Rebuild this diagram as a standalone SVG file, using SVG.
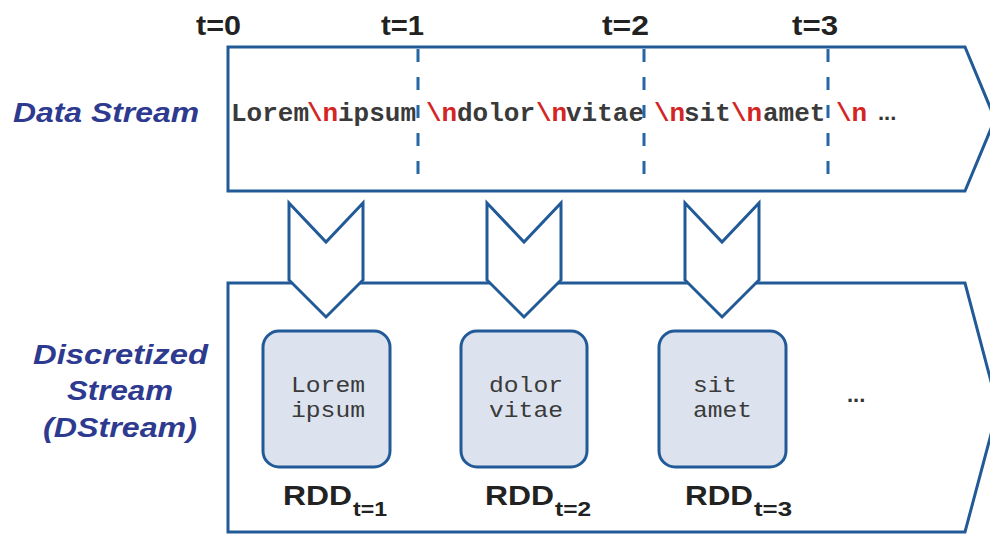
<svg xmlns="http://www.w3.org/2000/svg" width="990" height="534" viewBox="0 0 990 534">
<style>
.frame{fill:#fff;stroke:#215A97;stroke-width:3;stroke-linejoin:miter}
.dash{stroke:#2766A6;stroke-width:3;stroke-dasharray:13 15}
.chev{fill:#fff;stroke:#215A97;stroke-width:3;stroke-linejoin:miter}
.rdd{fill:#DCE3EE;stroke:#215A97;stroke-width:3}
.tlab{font-family:"Liberation Sans",Arial,sans-serif;font-weight:bold;font-size:27px;fill:#222}
.side{font-family:"Liberation Sans",Arial,sans-serif;font-weight:bold;font-style:italic;font-size:28px;fill:#2E3A8F}
.mono{font-family:"Liberation Mono","Courier New",monospace;font-weight:bold;font-size:26px;fill:#3A3A3A}
.red{fill:#D42424}
.boxt{font-family:"Liberation Mono","Courier New",monospace;font-size:22px;fill:#3A3A3A}
.rddl{font-family:"Liberation Sans",Arial,sans-serif;font-weight:bold;font-size:28px;fill:#222}
.sub{font-family:"Liberation Sans",Arial,sans-serif;font-weight:bold;font-size:21px;fill:#222}
.dots{font-family:"Liberation Sans",Arial,sans-serif;font-weight:bold;font-size:22px;fill:#333}
</style>
<rect width="990" height="534" fill="#fff"/>

<g id="time-labels">
<text class="tlab" x="196" y="35" textLength="45" lengthAdjust="spacingAndGlyphs">t=0</text>
<text class="tlab" x="381" y="35" textLength="43" lengthAdjust="spacingAndGlyphs">t=1</text>
<text class="tlab" x="602" y="35" textLength="47" lengthAdjust="spacingAndGlyphs">t=2</text>
<text class="tlab" x="792" y="35" textLength="46" lengthAdjust="spacingAndGlyphs">t=3</text>
</g>

<g id="data-stream">
<polygon class="frame" points="228,47 965,47 995,119 965,191 228,191"/>
<line class="dash" x1="418" y1="49" x2="418" y2="189"/>
<line class="dash" x1="644" y1="49" x2="644" y2="189"/>
<line class="dash" x1="828" y1="49" x2="828" y2="189"/>
<text class="mono" y="121"><tspan x="231">Lorem</tspan><tspan class="red" x="307">\n</tspan><tspan x="338">ipsum</tspan><tspan class="red" x="426">\n</tspan><tspan x="457">dolor</tspan><tspan class="red" x="536">\n</tspan><tspan x="566">vitae</tspan><tspan class="red" x="654">\n</tspan><tspan x="684">sit</tspan><tspan class="red" x="731">\n</tspan><tspan x="763">amet</tspan><tspan class="red" x="836">\n</tspan></text>
<text class="dots" x="878" y="120">...</text>
</g>

<g id="label-data-stream">
<text class="side" x="13" y="122" textLength="186" lengthAdjust="spacingAndGlyphs">Data Stream</text>
</g>

<g id="label-dstream">
<text class="side" x="33" y="364" textLength="175" lengthAdjust="spacingAndGlyphs">Discretized</text>
<text class="side" x="67" y="400" textLength="106" lengthAdjust="spacingAndGlyphs">Stream</text>
<text class="side" x="43" y="437" textLength="154" lengthAdjust="spacingAndGlyphs">(DStream)</text>
</g>

<g id="dstream">
<polygon class="frame" points="228,283 965,283 998,408 965,532 228,532"/>
<text class="dots" x="847" y="402">...</text>
</g>

<g id="connectors">
<polygon class="chev" points="289,203 326,242 363,203 363,280 326,317 289,280"/>
<polygon class="chev" points="487,203 524,242 561,203 561,280 524,317 487,280"/>
<polygon class="chev" points="685,203 722,242 759,203 759,280 722,317 685,280"/>
</g>

<g id="rdd1">
<rect class="rdd" x="263" y="331" width="127" height="136" rx="16"/>
<text class="boxt" x="291" y="392" textLength="74" lengthAdjust="spacingAndGlyphs">Lorem</text>
<text class="boxt" x="291" y="417" textLength="74" lengthAdjust="spacingAndGlyphs">ipsum</text>
<text class="rddl" x="283" y="505" textLength="69" lengthAdjust="spacingAndGlyphs">RDD</text>
<text class="sub" x="353" y="516" textLength="34" lengthAdjust="spacingAndGlyphs">t=1</text>
</g>

<g id="rdd2">
<rect class="rdd" x="461" y="331" width="126" height="136" rx="16"/>
<text class="boxt" x="489" y="392" textLength="74" lengthAdjust="spacingAndGlyphs">dolor</text>
<text class="boxt" x="489" y="417" textLength="74" lengthAdjust="spacingAndGlyphs">vitae</text>
<text class="rddl" x="485" y="505" textLength="69" lengthAdjust="spacingAndGlyphs">RDD</text>
<text class="sub" x="555" y="516" textLength="36" lengthAdjust="spacingAndGlyphs">t=2</text>
</g>

<g id="rdd3">
<rect class="rdd" x="659" y="331" width="127" height="136" rx="16"/>
<text class="boxt" x="693" y="392" textLength="44" lengthAdjust="spacingAndGlyphs">sit</text>
<text class="boxt" x="693" y="417" textLength="59" lengthAdjust="spacingAndGlyphs">amet</text>
<text class="rddl" x="685" y="505" textLength="68" lengthAdjust="spacingAndGlyphs">RDD</text>
<text class="sub" x="754" y="516" textLength="38" lengthAdjust="spacingAndGlyphs">t=3</text>
</g>
</svg>
